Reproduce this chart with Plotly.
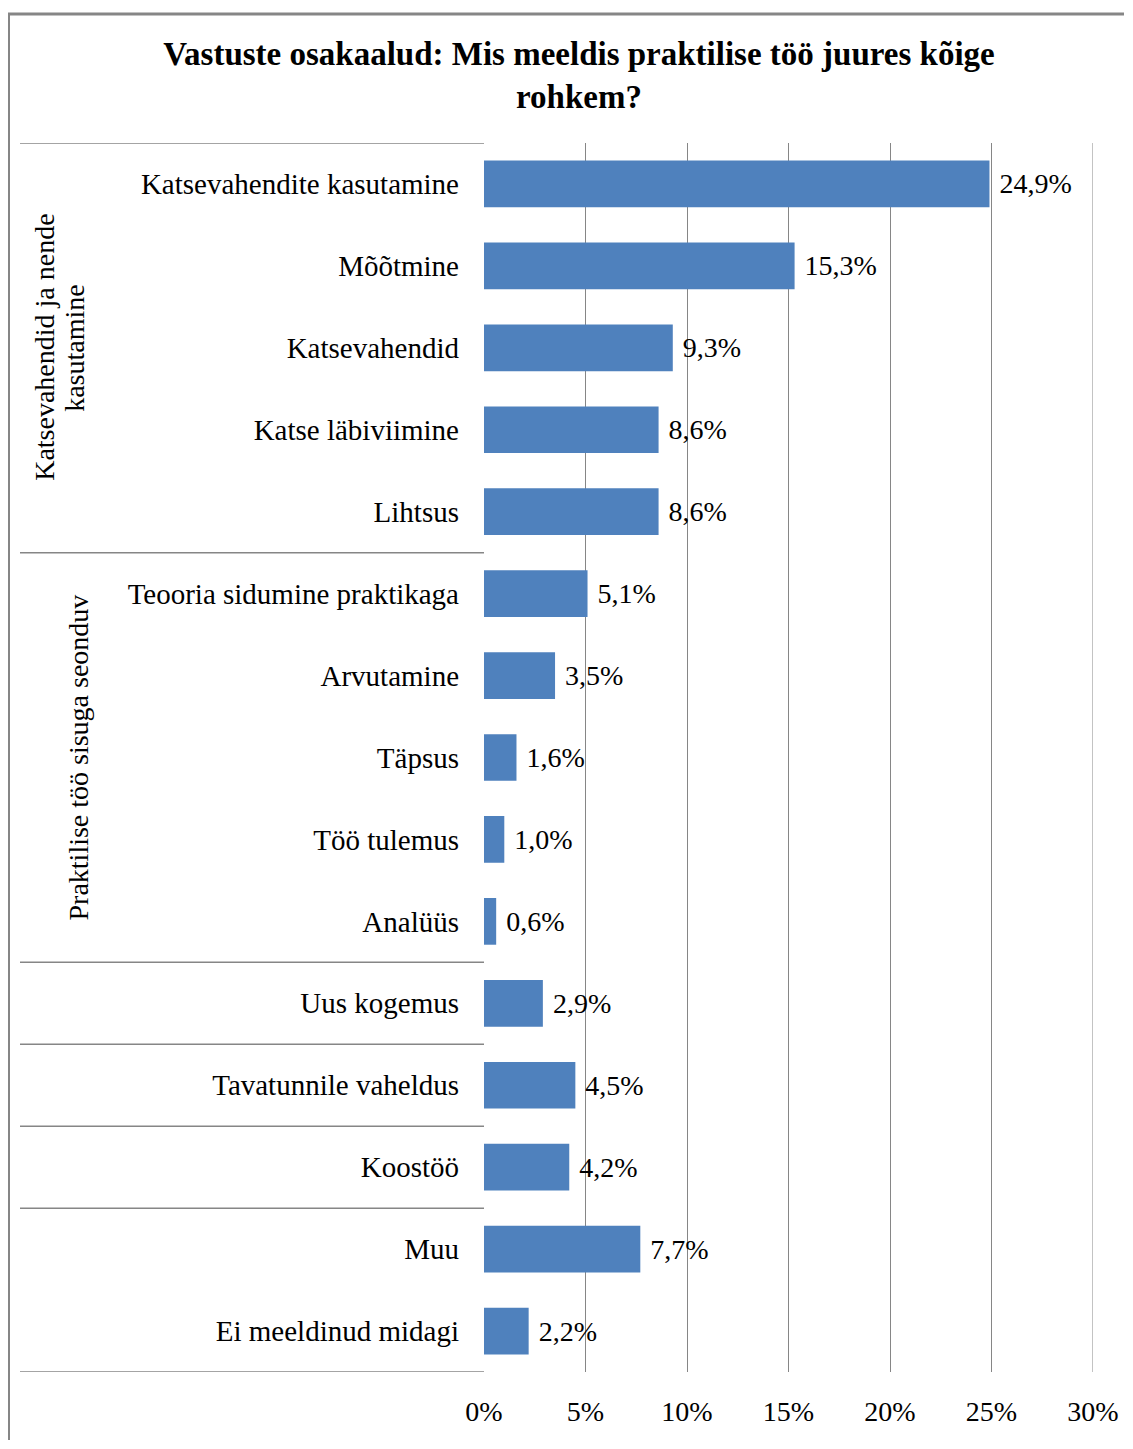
"""
Vastuste osakaalud: horizontal bar chart with grouped category labels.
"""

import plotly.graph_objects as go

# ---------------------------------------------------------------------------
# Data
# ---------------------------------------------------------------------------

categories = [
    "Katsevahendite kasutamine",
    "Mõõtmine",
    "Katsevahendid",
    "Katse läbiviimine",
    "Lihtsus",
    "Teooria sidumine praktikaga",
    "Arvutamine",
    "Täpsus",
    "Töö tulemus",
    "Analüüs",
    "Uus kogemus",
    "Tavatunnile vaheldus",
    "Koostöö",
    "Muu",
    "Ei meeldinud midagi",
]
shares = [24.9, 15.3, 9.3, 8.6, 8.6, 5.1, 3.5, 1.6, 1.0, 0.6, 2.9, 4.5, 4.2, 7.7, 2.2]

# groups: (label lines, first index, last index)
groups = [
    (["Katsevahendid ja nende", "kasutamine"], 0, 4),
    (["Praktilise töö sisuga seonduv"], 5, 9),
    ([], 10, 10),
    ([], 11, 11),
    ([], 12, 12),
    ([], 13, 14),
]

tick_values = [0, 5, 10, 15, 20, 25, 30]
tick_labels = ["0%", "5%", "10%", "15%", "20%", "25%", "30%"]

TITLE = "Vastuste osakaalud: Mis meeldis praktilise töö juures kõige<br>rohkem?"

# ---------------------------------------------------------------------------
# Layout constants (pixels in the page; the page body adds an 8px margin,
# so the figure is kept small enough to avoid scrollbars)
# ---------------------------------------------------------------------------

OFF = 8
W, H = 1133 - 2 * OFF, 1449 - 2 * OFF
PLOT_L, PLOT_R, PLOT_T, PLOT_B = 484 - OFF, 1093 - OFF, 143 - OFF, 1372 - OFF
FONT = "Liberation Serif"
BAR_COLOR = "#4F81BD"
LINE_COLOR = "#868686"


def px_x(px):
    return (px - OFF - PLOT_L) / (PLOT_R - PLOT_L)


def px_y(py):
    return (PLOT_B - (py - OFF)) / (PLOT_B - PLOT_T)


labels = ["\u00a0" + f"{v:.1f}".replace(".", ",") + "%" for v in shares]

fig = go.Figure(
    go.Bar(
        x=shares,
        y=list(range(len(categories))),
        orientation="h",
        marker=dict(color=BAR_COLOR, line=dict(width=0)),
        width=0.57,
        text=labels,
        textposition="outside",
        constraintext="none",
        cliponaxis=False,
        textfont=dict(family=FONT, size=28, color="black"),
        showlegend=False,
    )
)

shapes = []
# group separators on the left
bounds = sorted({g[1] - 0.5 for g in groups} | {g[2] + 0.5 for g in groups})
for b in bounds:
    shapes.append(dict(
        type="line", xref="paper", yref="y",
        x0=px_x(20), x1=0, y0=b, y1=b,
        line=dict(color=LINE_COLOR, width=1.5),
    ))
# last gridline sits on the plot edge, draw it explicitly
shapes.append(dict(
    type="line", xref="x", yref="paper",
    x0=tick_values[-1], x1=tick_values[-1], y0=0, y1=1,
    line=dict(color=LINE_COLOR, width=1), layer="below",
))
# outer frame (top and left), kept inside the figure so the page doesn't grow
shapes.append(dict(
    type="line", xref="paper", yref="paper",
    x0=px_x(8), x1=px_x(OFF + W - 1), y0=px_y(14), y1=px_y(14),
    line=dict(color=LINE_COLOR, width=3),
))
shapes.append(dict(
    type="line", xref="paper", yref="paper",
    x0=px_x(9), x1=px_x(9), y0=px_y(14), y1=px_y(OFF + H - 1),
    line=dict(color=LINE_COLOR, width=2),
))

annotations = []
group_x = {0: 60, 1: 78}
LINE_GAP = 30
for i, (lines, first, last) in enumerate(groups):
    if not lines:
        continue
    start = group_x[i] - LINE_GAP * (len(lines) - 1) / 2
    for k, line in enumerate(lines):
        annotations.append(dict(
            text=line, xref="paper", yref="y",
            x=px_x(start + k * LINE_GAP), y=(first + last) / 2,
            textangle=-90, showarrow=False,
            xanchor="center", yanchor="middle",
            font=dict(family=FONT, size=28, color="black"),
        ))

fig.update_layout(
    width=W,
    height=H,
    margin=dict(l=PLOT_L, r=W - PLOT_R, t=PLOT_T, b=H - PLOT_B, pad=0),
    paper_bgcolor="white",
    plot_bgcolor="white",
    title=dict(
        text=f"<b>{TITLE}</b>",
        x=(579 - OFF) / W, xanchor="center",
        y=1 - (65 - OFF) / H, yanchor="middle",
        font=dict(family=FONT, size=33, color="black"),
        automargin=False,
    ),
    xaxis=dict(
        range=[0, 30],
        tickvals=tick_values,
        ticktext=tick_labels,
        showgrid=True,
        gridcolor=LINE_COLOR,
        gridwidth=1,
        zeroline=True,
        zerolinecolor="white",
        zerolinewidth=2,
        showline=False,
        ticks="",
        ticklabelstandoff=20,
        automargin=False,
        tickfont=dict(family=FONT, size=28, color="black"),
    ),
    yaxis=dict(
        range=[len(categories) - 0.5, -0.5],
        tickvals=list(range(len(categories))),
        ticktext=categories,
        showgrid=False,
        zeroline=False,
        showline=False,
        ticks="",
        ticklabelstandoff=24,
        automargin=False,
        tickfont=dict(family=FONT, size=29, color="black"),
    ),
    shapes=shapes,
    annotations=annotations,
    bargap=0.43,
)

fig.write_html("out.html")
